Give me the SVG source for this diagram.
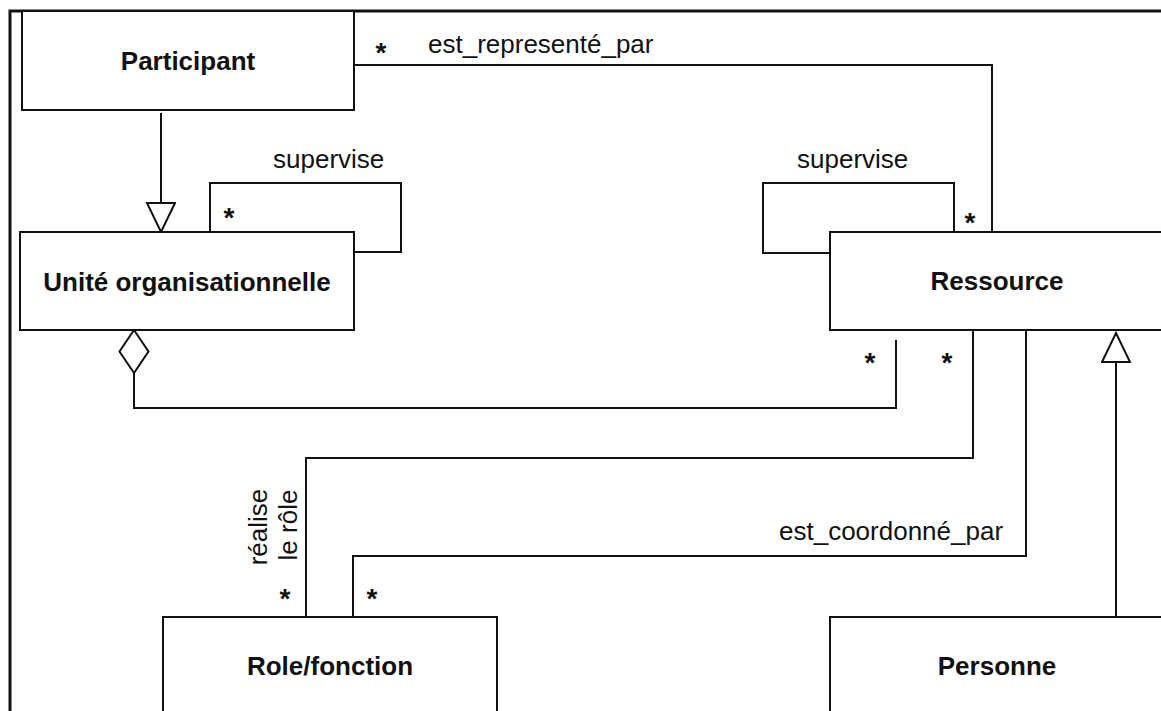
<svg xmlns="http://www.w3.org/2000/svg" width="1161" height="711" viewBox="0 0 1161 711">
<style>
.box{fill:#fff;stroke:#111;stroke-width:2}
.cls{font-family:"Liberation Sans",Arial,sans-serif;font-weight:bold;font-size:26px;fill:#111;text-anchor:middle}
.lbl{font-family:"Liberation Sans",Arial,sans-serif;font-size:26px;fill:#111}
.mul{font-family:"Liberation Sans",Arial,sans-serif;font-weight:bold;font-size:28px;fill:#111;text-anchor:middle}
.edge{fill:none;stroke:#111;stroke-width:2}
</style>
<defs>
<marker id="tri" markerUnits="userSpaceOnUse" viewBox="0 0 32 32" markerWidth="32" markerHeight="32" refX="30" refY="15" orient="auto">
<path d="M1,1 L30,15 L1,29 Z" fill="#fff" stroke="#111" stroke-width="2"/>
</marker>
<marker id="dia" markerUnits="userSpaceOnUse" viewBox="-1 -1 46 32" markerWidth="46" markerHeight="32" refX="0" refY="15" orient="auto">
<path d="M0,15 L21.5,0.5 L43,15 L21.5,29.5 Z" fill="#fff" stroke="#111" stroke-width="2"/>
</marker>
</defs>
<rect width="1161" height="711" fill="#fff"/>
<path d="M10,711 V11 H1161" fill="none" stroke="#111" stroke-width="3"/>
<g id="connectors">
<path class="edge" d="M354,65 H992 V232"/>
<path class="edge" d="M210,232 V183 H401 V252 H354"/>
<path class="edge" d="M954,232 V183 H763 V253 H830"/>
<path class="edge" d="M973,330 V458 H306 V617"/>
<path class="edge" d="M1026,330 V556 H353 V617"/>
<path class="edge" d="M134,330 V408 H896 V340" marker-start="url(#dia)"/>
<path class="edge" d="M161,113 V232" marker-end="url(#tri)"/>
<path class="edge" d="M1116,617 V333" marker-end="url(#tri)"/>
<text class="lbl" x="428" y="53">est_representé_par</text>
<text class="lbl" x="273" y="168">supervise</text>
<text class="lbl" x="797" y="168">supervise</text>
<text class="lbl" x="779" y="540">est_coordonné_par</text>
<text class="lbl" text-anchor="middle" transform="translate(267,527) rotate(-90)">réalise</text>
<text class="lbl" text-anchor="middle" transform="translate(297,525) rotate(-90)">le rôle</text>
<text class="mul" x="381" y="62">*</text>
<text class="mul" x="229" y="227">*</text>
<text class="mul" x="970" y="232">*</text>
<text class="mul" x="870" y="372">*</text>
<text class="mul" x="947" y="372">*</text>
<text class="mul" x="285" y="608">*</text>
<text class="mul" x="372" y="608">*</text>
</g>
<g id="participant">
<rect class="box" x="22" y="11" width="332" height="99"/>
<text class="cls" x="188" y="70">Participant</text>
</g>
<g id="unite">
<rect class="box" x="20" y="232" width="334" height="98"/>
<text class="cls" x="187" y="291">Unité organisationnelle</text>
</g>
<g id="ressource">
<rect class="box" x="830" y="232" width="340" height="98"/>
<text class="cls" x="997" y="290">Ressource</text>
</g>
<g id="role">
<rect class="box" x="163" y="617" width="334" height="120"/>
<text class="cls" x="330" y="675">Role/fonction</text>
</g>
<g id="personne">
<rect class="box" x="830" y="617" width="340" height="120"/>
<text class="cls" x="997" y="675">Personne</text>
</g>
</svg>
